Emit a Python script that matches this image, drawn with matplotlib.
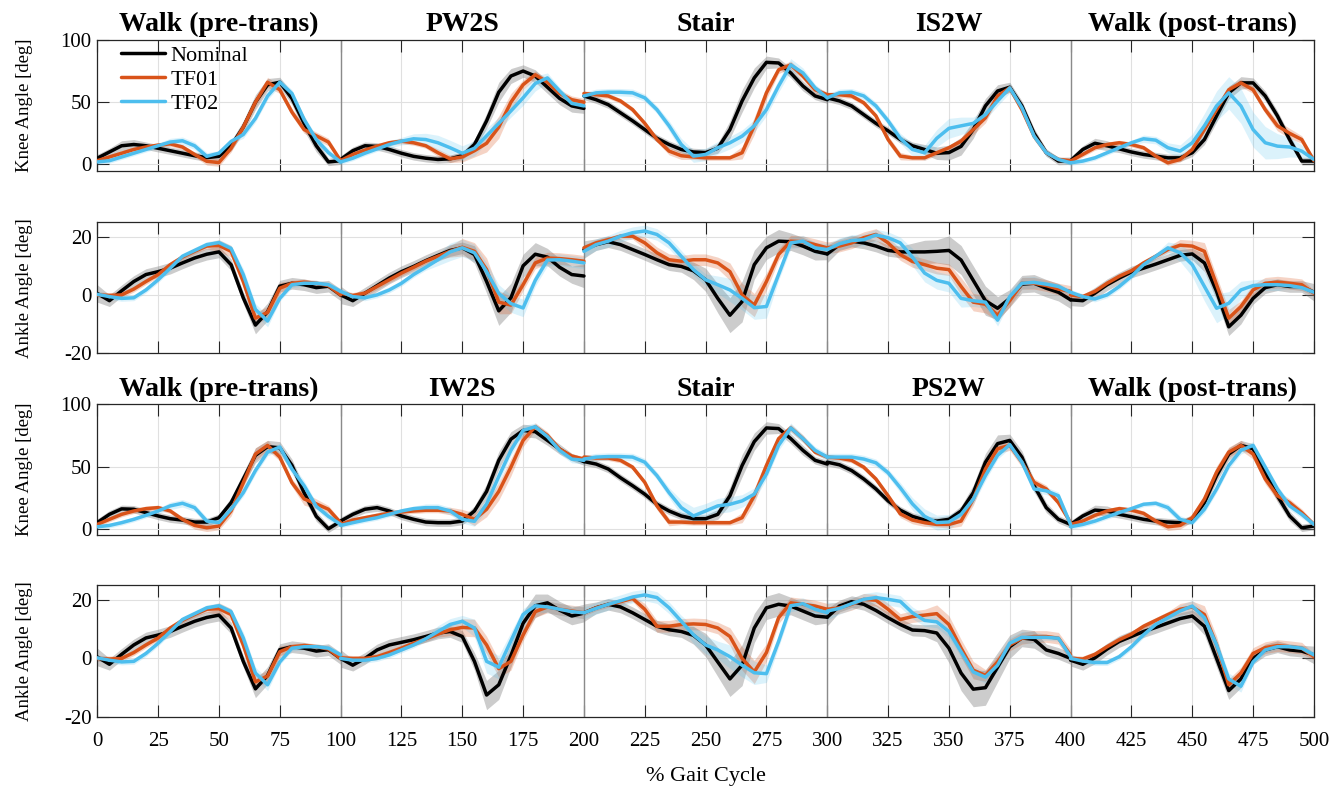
import numpy as np
import matplotlib.pyplot as plt

plt.rcParams['font.family'] = ['Liberation Serif', 'DejaVu Serif']
plt.rcParams['axes.unicode_minus'] = False

# gait phases shown above the knee rows
phases_a = ["Walk (pre-trans)", "PW2S", "Stair", "IS2W", "Walk (post-trans)"]
phases_b = ["Walk (pre-trans)", "IW2S", "Stair", "PS2W", "Walk (post-trans)"]
conditions = ["Nominal", "TF01", "TF02"]
pct = np.arange(0, 101, 5)  # % gait cycle samples inside each phase window

# ---- row 1: knee angle, PW2S / IS2W (one list per phase window) ----
knee1_nom = [
    [5, 10, 15, 16, 15, 13, 11, 9, 7, 5.5, 6.5, 15, 30, 50, 64, 66, 53, 33, 15, 2, 3],
    [4, 11, 15, 14.5, 12, 9, 6.5, 5, 4, 4.5, 7, 16, 35, 58, 71, 75, 71, 62, 53, 47, 45],
    [55, 52, 48, 41.5, 35, 28, 21, 16, 12, 10, 9.5, 13, 28, 51, 69.5, 82, 81.5, 73.5, 63, 55, 52],
    [53.5, 51, 47, 40, 33, 27, 20, 15, 12, 9, 9.5, 14.5, 28, 47, 59, 62, 47, 25, 9.5, 2.7, 3],
    [3, 12, 17, 15, 12.5, 10, 8, 6.7, 5.3, 5.3, 9.4, 20, 39, 57.5, 65.5, 65.5, 55, 39, 20, 2.7, 2.7],
]
knee1_tf01 = [
    [3, 6, 9, 12, 14, 15.5, 16.5, 14, 8, 2.5, 1.5, 13, 30, 50, 66, 60, 42, 28, 23, 18, 3],
    [3, 8, 11.5, 14.7, 17.4, 18.7, 17.4, 15, 9.4, 4.5, 6, 11, 17, 30, 50, 64, 72, 66, 57, 52, 50],
    [57, 56, 55, 51, 44, 33, 20, 10.7, 7, 6, 5.3, 5.3, 5.3, 9.4, 31, 57.5, 76, 80, 71, 60, 56],
    [56, 56, 55, 49.5, 39, 20, 6.7, 5.3, 5.3, 9.4, 13.4, 18.7, 28, 37.4, 55, 61.5, 44, 22.7, 9.4, 4, 3],
    [2.7, 8, 13.4, 16, 17.4, 16, 13.4, 6.7, 1.3, 4, 12, 28, 44, 60, 65.5, 60, 44, 31, 25, 20, 3],
]
knee1_tf02 = [
    [2, 3, 6, 9, 12, 15, 18, 19, 15, 6.5, 9, 18.5, 24, 37, 55, 66, 57, 36, 20, 9.5, 2],
    [2, 5, 9, 12.5, 16, 18.7, 20.6, 20, 17.4, 13.4, 9, 13, 23, 33, 43, 53.5, 65, 69.5, 59, 49, 47],
    [55, 57.5, 58, 58, 57.5, 53.5, 44, 31, 16, 6.7, 8, 13.4, 17.4, 22.7, 31, 44, 63, 80, 73.5, 61.5, 53.5],
    [53.5, 57.5, 58, 55, 47, 35, 21, 12, 9.4, 21, 29, 31, 33, 40, 51, 61.5, 45.5, 22.7, 9.4, 4, 1.3],
    [1.3, 2.7, 5.3, 9.4, 13.4, 17.4, 20.6, 19.5, 13.4, 10.7, 17.4, 31, 47, 57.5, 47, 28, 17.4, 14.7, 14, 10.7, 4],
]
knee1_nom_sd = [
    [3, 3, 4, 4, 3, 3, 3, 3, 3, 3, 3, 4, 5, 6, 5, 4, 5, 6, 5, 3, 3],
    [3, 3, 3, 3, 3, 3, 3, 3, 3, 3, 3, 4, 6, 8, 6, 5, 5, 5, 5, 5, 4],
    [3, 3, 3, 3, 3, 3, 3, 3, 3, 3, 3, 4, 7, 9, 8, 5, 4, 4, 4, 3, 3],
    [3, 3, 3, 3, 3, 3, 3, 3, 4, 5, 6, 7, 7, 6, 5, 4, 4, 4, 3, 3, 3],
    [3, 3, 4, 4, 3, 3, 3, 3, 3, 3, 3, 4, 5, 5, 5, 4, 4, 4, 4, 3, 3],
]
knee1_tf01_sd = [
    [2, 2, 2, 2, 2, 2, 2, 2, 2, 3, 3, 3, 3, 4, 4, 3, 3, 3, 3, 3, 2],
    [2, 2, 2, 2, 2, 2, 2, 2, 3, 3, 4, 5, 7, 9, 7, 4, 3, 3, 3, 3, 3],
    [2, 2, 2, 2, 2, 2, 2, 3, 3, 2, 2, 2, 2, 5, 7, 5, 3, 3, 3, 3, 2],
    [2, 2, 2, 2, 2, 3, 3, 2, 2, 2, 2, 3, 4, 4, 3, 3, 3, 3, 2, 2, 2],
    [2, 2, 2, 2, 2, 2, 2, 2, 2, 2, 3, 3, 3, 3, 3, 3, 3, 4, 4, 3, 2],
]
knee1_tf02_sd = [
    [2, 2, 2, 2, 2, 2, 3, 3, 3, 3, 2, 2, 3, 3, 3, 3, 3, 3, 3, 3, 2],
    [2, 2, 2, 2, 3, 3, 4, 5, 6, 6, 6, 6, 6, 5, 5, 6, 6, 4, 3, 3, 3],
    [3, 3, 3, 3, 3, 3, 3, 4, 5, 5, 5, 5, 5, 5, 5, 5, 5, 5, 4, 3, 3],
    [3, 3, 3, 3, 3, 3, 4, 5, 6, 7, 8, 7, 5, 4, 4, 4, 3, 3, 3, 2, 2],
    [2, 2, 2, 2, 2, 2, 3, 3, 4, 5, 7, 10, 12, 13, 14, 14, 13, 10, 8, 5, 3],
]

# ---- row 2: ankle angle, PW2S / IS2W ----
ankle1_nom = [
    [0.5, -2, 1.4, 4.6, 7, 8, 9.2, 11, 12.7, 14, 14.8, 10.4, -1, -10.4, -5.8, 3, 4, 3.5, 2.5, 3, 0],
    [0, -2, 0.6, 3.2, 5.8, 8, 9.8, 11.8, 13.6, 15.3, 16.2, 13.9, 4.6, -5.5, -1, 10, 14, 13, 9.5, 7, 6.5],
    [15.6, 17.3, 18.3, 17.3, 15.6, 13.9, 12.1, 10.4, 9.8, 8.3, 5.2, -1.2, -7, -2.3, 10.4, 16.2, 18.5, 18.3, 16.8, 15, 14.1],
    [14.1, 17.3, 18.5, 17.9, 16.8, 15.3, 14.8, 14.8, 14.8, 15, 15.3, 12, 5, -2, -4.6, -1.2, 3.7, 4, 2.3, 0.9, -1.7],
    [-1.7, -2, 0.6, 3.5, 5.8, 7.9, 9.2, 10.6, 12.1, 13.6, 14.1, 11, 1.2, -11, -7, -1.2, 2.5, 3.5, 2.9, 2.9, 0.9],
]
ankle1_tf01 = [
    [0, -0.2, 0, 2, 4.6, 7, 10.4, 13, 15, 16.8, 17, 15, 4.6, -8, -6, 2.3, 4, 4.4, 4, 3.2, 0],
    [0.6, -0.2, 0.6, 2.9, 5.2, 7.5, 9.5, 11.6, 13.3, 15, 16.4, 15, 8.7, -2.5, -3.5, 3.5, 11, 12.7, 12.5, 12.1, 11.6],
    [16.2, 17.9, 19, 20.2, 20.2, 17.9, 14.5, 12.1, 11.6, 12.1, 12.1, 11, 8, 0, -3.5, 4.6, 13.9, 18.5, 18.3, 17.3, 16.2],
    [16.2, 16.8, 17.9, 19.7, 20.8, 17.9, 13.9, 11.5, 10.4, 9.2, 8.7, 2.9, -2.5, -3.2, -7, -2, 4, 4, 3.2, 2, 1.2],
    [0, -0.6, 1.2, 4, 6.4, 8.3, 11, 13.3, 15.6, 17.1, 16.8, 15, 3.5, -8, -4, 1.7, 4, 4.4, 4, 3.5, 0.6],
]
ankle1_tf02 = [
    [0.2, -0.6, -1.2, -1, 1.7, 5.2, 9.2, 13.3, 15.3, 17.3, 18, 16, 7, -5, -9, -1.2, 3.5, 4, 4, 3.5, 1.2],
    [1.2, -0.6, -1, 0, 1.7, 4, 7, 9.5, 12.1, 14.8, 16.2, 14.5, 8, 0.5, -3, -4.5, 5, 12, 12.1, 11.6, 11],
    [15, 17.3, 18.5, 20.2, 21.4, 22, 20.8, 17.9, 13.3, 8.7, 5.2, 3.5, 1.7, -1.2, -4.4, -4, 7, 17.9, 18.5, 16.2, 15.6],
    [15.6, 17.6, 18.7, 19, 20.6, 19.7, 17.9, 13, 7.5, 5, 4, -1.2, -2, -2.5, -8.7, -0.6, 4, 4.3, 3.7, 2.9, 0.9],
    [0.9, -0.6, -1.4, 0, 2.9, 6.4, 10.4, 13.3, 16.2, 14.5, 10.4, 2.9, -4.6, -2.9, 1.7, 3.2, 3.5, 3.5, 3.2, 2.5, 0.9],
]
ankle1_nom_sd = [
    [3, 2, 2, 2, 2, 2, 2, 2, 2, 2, 2, 2, 2, 3, 3, 2, 2, 2, 2, 2, 2],
    [3, 2, 2, 2, 2, 2, 2, 2, 2, 2, 2, 3, 4, 5, 5, 4, 4, 3, 3, 3, 4],
    [3, 2, 2, 2, 2, 2, 2, 2, 2, 3, 4, 5, 6, 7, 5, 4, 4, 3, 3, 3, 2],
    [3, 2, 2, 2, 2, 2, 2, 3, 4, 4, 5, 5, 5, 5, 4, 3, 3, 3, 3, 3, 3],
    [2, 2, 2, 2, 2, 2, 2, 2, 2, 2, 2, 3, 3, 3, 3, 2, 2, 2, 2, 2, 3],
]
ankle1_tf01_sd = [
    [1, 1, 1, 1, 1, 1, 1, 1, 1, 1, 2, 2, 2, 2, 2, 2, 1, 1, 1, 1, 1],
    [1, 1, 1, 1, 1, 1, 1, 1, 1, 2, 3, 3, 4, 4, 3, 2, 2, 2, 2, 2, 2],
    [1, 1, 1, 1, 1, 2, 2, 2, 2, 2, 2, 2, 3, 4, 4, 3, 2, 2, 2, 2, 2],
    [2, 2, 2, 2, 2, 2, 2, 2, 2, 2, 2, 3, 3, 3, 2, 2, 2, 2, 2, 2, 2],
    [1, 1, 1, 1, 1, 1, 1, 1, 1, 2, 2, 3, 3, 3, 2, 2, 2, 2, 2, 2, 1],
]
ankle1_tf02_sd = [
    [1, 1, 1, 1, 1, 1, 1, 1, 1, 1, 1, 1, 2, 2, 2, 1, 1, 1, 1, 1, 1],
    [1, 1, 1, 1, 1, 1, 1, 1, 2, 3, 3, 3, 3, 3, 3, 3, 2, 2, 2, 2, 2],
    [2, 2, 2, 2, 2, 2, 2, 2, 2, 2, 2, 3, 4, 4, 4, 4, 2, 2, 2, 2, 2],
    [2, 2, 2, 2, 2, 2, 2, 3, 3, 3, 3, 3, 2, 2, 2, 2, 2, 2, 1, 1, 1],
    [1, 1, 1, 1, 1, 1, 1, 1, 2, 3, 4, 5, 5, 4, 3, 2, 2, 2, 1, 1, 1],
]

# ---- row 3: knee angle, IW2S / PS2W ----
knee2_nom = [
    [5, 11.6, 16, 15.7, 13, 10.3, 8.1, 7, 5.4, 5.4, 8.9, 21, 40, 59, 66, 65, 51, 29, 10, 0, 6],
    [6.2, 11.6, 15.7, 17, 14.3, 10.3, 7.6, 5.4, 4.9, 4.9, 6.2, 14.3, 30, 55, 72, 79, 78, 71, 64, 57.6, 54],
    [54, 52, 48, 41, 34.6, 27.8, 19.7, 14.3, 10.3, 8.1, 8.1, 11.6, 26.5, 50.8, 70, 81, 80.5, 72.4, 63, 55, 52],
    [53.5, 51.4, 46.8, 40, 32, 22.4, 15, 10, 7, 6.2, 7.6, 14.3, 29, 53.5, 68.4, 71, 57.6, 34.6, 17, 7.6, 3.5],
    [3.5, 10.3, 15, 14.3, 11.6, 9.7, 7.6, 6.2, 5.4, 4.9, 7.6, 21, 42.7, 60, 67, 64.3, 45.4, 26.5, 10.3, 0.8, 2.2],
]
knee2_tf01 = [
    [3.5, 7.6, 11.6, 14.3, 16.2, 17, 14.3, 7.6, 2.7, 0.8, 2.2, 14.3, 37, 60, 67, 57.6, 37, 24, 20, 15.7, 4.9],
    [3.5, 7, 8.9, 10.8, 12.4, 13.5, 14.3, 14.9, 14.9, 14.3, 11.6, 7.6, 15.7, 30, 49.5, 71, 82, 75, 64, 58.4, 56],
    [57.6, 56.8, 56.8, 55, 49.5, 37.3, 18.4, 5.4, 5.4, 4.9, 4.9, 4.9, 4.9, 8.9, 26.5, 50.8, 72.4, 81, 72.4, 61.6, 57.6],
    [57.6, 56.8, 55, 49.5, 40, 26.5, 12, 7, 4.9, 3.5, 3.5, 6.2, 23.8, 48, 64.3, 67, 53.5, 37.3, 32, 21, 4.9],
    [3.5, 6.2, 10.8, 14.3, 16.2, 15, 12.4, 6.2, 1.6, 2.7, 8.9, 23.8, 45.4, 61.6, 67, 60, 40, 26.5, 21, 13, 3.5],
]
knee2_tf02 = [
    [1.6, 2.7, 4.9, 7.6, 10.8, 14.3, 18.4, 20.5, 17, 6.2, 5, 15.7, 29, 46.8, 61.6, 65.7, 48, 34.6, 18, 10, 3.5],
    [2.7, 4.9, 7, 8.9, 11.6, 14.3, 16.2, 17, 17, 14.3, 7.6, 6, 20, 42, 63, 79, 82, 74, 63, 56, 55],
    [56, 57.6, 58, 58, 57.6, 53.5, 42.7, 29, 17, 10.3, 14.3, 18.4, 19.7, 22.4, 27.8, 44, 67, 81, 72.4, 63, 57.6],
    [57.6, 57.6, 57.6, 56, 53, 45, 33, 20, 10, 5, 5.5, 11.6, 23.8, 42.7, 59, 67.6, 53.5, 32, 30.5, 26.5, 3.5],
    [1.6, 3.5, 6.2, 9.7, 13, 16.2, 19.7, 20.5, 17, 7.6, 4.9, 15.7, 32, 50.8, 63, 67, 49.5, 32, 18.4, 11.6, 3.5],
]
knee2_nom_sd = [
    [3, 3, 3, 3, 3, 3, 3, 3, 3, 3, 3, 4, 5, 6, 5, 5, 5, 5, 4, 3, 3],
    [3, 3, 3, 3, 3, 3, 3, 3, 3, 3, 3, 4, 6, 7, 6, 5, 5, 4, 4, 3, 3],
    [3, 3, 3, 3, 3, 3, 3, 3, 3, 3, 3, 4, 7, 9, 7, 5, 4, 4, 4, 3, 3],
    [3, 3, 3, 3, 3, 3, 3, 3, 3, 3, 3, 4, 6, 7, 7, 5, 5, 5, 4, 3, 3],
    [3, 3, 4, 4, 3, 3, 3, 3, 3, 3, 3, 4, 5, 5, 4, 4, 5, 5, 4, 3, 3],
]
knee2_tf01_sd = [
    [2, 2, 2, 2, 2, 2, 2, 2, 3, 3, 3, 4, 4, 5, 4, 3, 3, 5, 4, 3, 2],
    [2, 2, 2, 2, 2, 2, 2, 2, 2, 3, 4, 5, 6, 7, 7, 5, 3, 3, 2, 2, 2],
    [2, 2, 2, 2, 2, 2, 3, 3, 2, 2, 2, 2, 2, 4, 6, 5, 3, 3, 3, 2, 2],
    [2, 2, 2, 2, 2, 2, 3, 3, 3, 2, 3, 4, 5, 5, 4, 4, 4, 3, 3, 2, 2],
    [2, 2, 2, 2, 2, 2, 2, 2, 3, 3, 3, 4, 5, 4, 4, 4, 4, 4, 3, 3, 2],
]
knee2_tf02_sd = [
    [2, 2, 2, 2, 2, 2, 3, 3, 3, 3, 2, 2, 3, 3, 3, 3, 4, 4, 3, 3, 2],
    [2, 2, 2, 2, 2, 2, 2, 3, 3, 3, 3, 4, 5, 5, 4, 4, 3, 3, 3, 3, 3],
    [3, 3, 3, 3, 3, 3, 3, 4, 6, 7, 6, 6, 6, 5, 5, 4, 4, 4, 3, 3, 3],
    [3, 3, 3, 3, 3, 3, 4, 5, 6, 6, 6, 4, 4, 4, 3, 3, 3, 3, 3, 3, 3],
    [2, 2, 2, 2, 2, 2, 2, 2, 3, 3, 2, 3, 3, 3, 3, 3, 3, 3, 3, 3, 2],
]

# ---- row 4: ankle angle, IW2S / PS2W (walking windows repeat row 2) ----
ankle2_nom = [
    ankle1_nom[0],
    [0, -2.3, 0, 2.9, 4.6, 5.5, 6.4, 7.5, 8.7, 9.2, 7.5, -1, -12.5, -9, 1, 12, 18, 19, 16.5, 14.5, 15.5],
    [15.6, 17.3, 18.5, 17.6, 15.6, 13.3, 11, 9.8, 9.2, 7.9, 4.6, -1.2, -7, -2.3, 10.4, 17.3, 18.5, 17.9, 16.2, 14.5, 14.1],
    [14.1, 17.9, 19.4, 18.5, 16.4, 13.9, 11.6, 9.7, 9.5, 8.7, 3.5, -5, -10.5, -10, -3, 4, 7, 6.5, 2.9, 1.7, 0],
    [-0.6, -2, 0.2, 3.2, 5.8, 7.5, 9.2, 10.6, 12.1, 13.6, 14.5, 11, 0, -11, -7, 0, 2.9, 4, 2.9, 2.5, 1.2],
]
ankle2_tf01 = [
    ankle1_tf01[0],
    [0.2, 0, 0, 0.6, 2, 3.5, 5.2, 6.7, 8.3, 9.8, 10.6, 10.4, 4.6, -3.5, -1, 8, 16, 17.6, 16.8, 16.2, 15.6],
    [15.6, 17.3, 18.5, 19.4, 20.5, 16.8, 11, 11, 11.6, 11.8, 11.6, 10.4, 7.5, 0, -4.6, 2, 13.9, 19, 18.5, 17.9, 16.8],
    [16.8, 17.3, 18.5, 20.2, 19.9, 16.8, 13.3, 14.3, 14.8, 15.3, 11.6, 3.5, -4, -5.8, -1.2, 4.6, 6.9, 7.5, 7.5, 6.9, 1.2],
    [0, -0.2, 1.4, 4, 6.4, 8.3, 11, 13, 15, 16.8, 17.6, 15, 4.6, -9, -5, 1.7, 3.7, 4.4, 4, 3.5, 0.6],
]
ankle2_tf02 = [
    ankle1_tf02[0],
    [0, -0.6, -0.6, 0, 1.2, 2.9, 4.6, 6.7, 9.2, 11.6, 12.7, 10.4, -1, -3, 6, 15, 18, 17.6, 16.8, 16, 15.6],
    [15.6, 17.1, 18.5, 19.7, 21, 21.7, 20.8, 17.3, 12.7, 8.1, 4.6, 2.9, 0.6, -2.3, -4.9, -5.2, 5.8, 18, 18.7, 16.8, 15.6],
    [16.2, 17.1, 18.7, 20.2, 20.8, 20.2, 19.5, 15.6, 13, 12.5, 9.2, 2.3, -4.6, -6.4, -2.3, 5.2, 7.2, 7.2, 7.2, 6.9, 0.6],
    [0, -0.9, -1.4, -1.4, 0.6, 4, 8.1, 11.6, 13.9, 16.2, 17.9, 13.9, 4.6, -7, -9.5, -1.2, 2.9, 4, 4, 3.5, 1.2],
]
ankle2_nom_sd = [
    ankle1_nom_sd[0],
    [3, 2, 2, 2, 2, 2, 2, 2, 2, 2, 2, 3, 5, 5, 4, 4, 4, 3, 3, 3, 3],
    [3, 2, 2, 2, 2, 2, 2, 2, 2, 3, 4, 5, 6, 7, 5, 4, 4, 3, 3, 3, 2],
    [3, 2, 2, 2, 2, 2, 2, 2, 2, 3, 5, 6, 6, 6, 5, 4, 3, 3, 2, 2, 2],
    [2, 2, 2, 2, 2, 2, 2, 2, 2, 2, 2, 3, 3, 3, 3, 2, 2, 2, 2, 2, 3],
]
ankle2_tf01_sd = [
    ankle1_tf01_sd[0],
    [1, 1, 1, 1, 1, 1, 1, 1, 1, 2, 3, 3, 3, 3, 3, 2, 2, 2, 2, 2, 2],
    [1, 1, 1, 1, 1, 2, 2, 2, 2, 2, 2, 2, 3, 4, 4, 3, 2, 2, 2, 2, 2],
    [2, 2, 2, 2, 2, 2, 2, 2, 2, 3, 3, 3, 3, 2, 2, 2, 2, 2, 2, 2, 2],
    [1, 1, 1, 1, 1, 1, 1, 1, 1, 2, 2, 3, 3, 2, 2, 2, 2, 2, 2, 2, 1],
]
ankle2_tf02_sd = [
    ankle1_tf02_sd[0],
    [1, 1, 1, 1, 1, 1, 1, 1, 2, 2, 2, 3, 4, 4, 3, 2, 2, 2, 2, 2, 2],
    [2, 2, 2, 2, 2, 2, 2, 2, 2, 3, 3, 3, 4, 4, 4, 3, 2, 2, 2, 2, 2],
    [3, 2, 2, 2, 2, 2, 2, 2, 2, 2, 2, 2, 2, 2, 2, 2, 2, 2, 1, 1, 1],
    [1, 1, 1, 1, 1, 1, 1, 1, 1, 2, 2, 2, 2, 2, 2, 1, 1, 1, 1, 1, 1],
]

line_colors = ['black', '#D95319', '#4DBEEE']
band_colors = ['#808080', '#D95319', '#4DBEEE']
band_alpha = [0.4, 0.25, 0.2]

rows = [
    ([knee1_nom, knee1_tf01, knee1_tf02], [knee1_nom_sd, knee1_tf01_sd, knee1_tf02_sd],
     "Knee Angle [deg]", (-5, 100), [0, 50, 100], phases_a),
    ([ankle1_nom, ankle1_tf01, ankle1_tf02], [ankle1_nom_sd, ankle1_tf01_sd, ankle1_tf02_sd],
     "Ankle Angle [deg]", (-20, 25), [-20, 0, 20], None),
    ([knee2_nom, knee2_tf01, knee2_tf02], [knee2_nom_sd, knee2_tf01_sd, knee2_tf02_sd],
     "Knee Angle [deg]", (-5, 100), [0, 50, 100], phases_b),
    ([ankle2_nom, ankle2_tf01, ankle2_tf02], [ankle2_nom_sd, ankle2_tf01_sd, ankle2_tf02_sd],
     "Ankle Angle [deg]", (-20, 25), [-20, 0, 20], None),
]
# axes boxes in figure fractions (left, bottom, width, height)
boxes = [
    [0.0727, 0.7837, 0.9093, 0.1657],
    [0.0727, 0.5526, 0.9093, 0.1657],
    [0.0727, 0.3219, 0.9093, 0.1657],
    [0.0727, 0.0913, 0.9093, 0.1669],
]

fig = plt.figure(figsize=(13.38, 7.89), dpi=100)

for r, (means, sds, ylab, ylim, yticks, titles) in enumerate(rows):
    ax = fig.add_axes(boxes[r])

    # shaded spread first, then the mean traces on top
    for k in range(3):
        for s in range(5):
            x = s * 100 + pct
            m = np.array(means[k][s], dtype=float)
            sd = np.array(sds[k][s], dtype=float)
            ax.fill_between(x, m - sd, m + sd, color=band_colors[k],
                            alpha=band_alpha[k], lw=0, zorder=2)
    for k in range(3):
        for s in range(5):
            x = s * 100 + pct
            ax.plot(x, means[k][s], color=line_colors[k], lw=2.5, zorder=3,
                    solid_joinstyle='round', solid_capstyle='round',
                    label=conditions[k] if s == 0 else None)

    for v in [100, 200, 300, 400]:
        ax.axvline(v, color='#8a8a8a', lw=1.0, zorder=1.5)

    ax.set_xlim(0, 500)
    ax.set_ylim(*ylim)
    ax.set_xticks(np.arange(0, 501, 25))
    ax.set_yticks(yticks)
    ax.grid(True, color='#e0e0e0', lw=0.8)
    ax.set_axisbelow(True)
    ax.tick_params(direction='in', top=True, right=True, length=8.5, width=0.8,
                   labelsize=15, colors='#262626', labelcolor='black')
    ax.tick_params(axis='y', pad=4)
    ax.tick_params(axis='x', pad=11)
    for sp in ax.spines.values():
        sp.set_color('#262626')
        sp.set_linewidth(0.9)
    ax.set_ylabel(ylab, fontsize=13.5)
    ax.yaxis.set_label_coords(-0.053, 0.5)

    if r < 3:
        ax.tick_params(labelbottom=False)
    else:
        ax.set_xlabel("% Gait Cycle", fontsize=16, labelpad=11)

    if titles is not None:
        for i, name in enumerate(titles):
            ax.text(50 + 100 * i, 1.02, name, transform=ax.get_xaxis_transform(),
                    ha='center', va='bottom', fontsize=20, fontweight='bold')

    if r == 0:
        ax.legend(loc='upper left', bbox_to_anchor=(0.012, 1.025), frameon=False,
                  fontsize=16, handlelength=2.0, handletextpad=0.25,
                  labelspacing=0.15, borderaxespad=0.0)

fig.savefig("out.png", dpi=100)
